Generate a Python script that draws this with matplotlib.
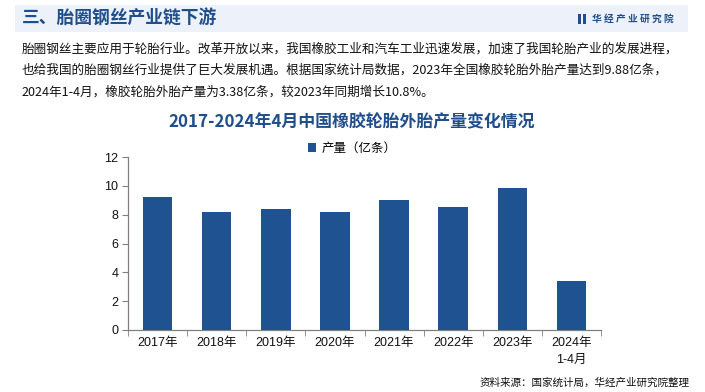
import matplotlib
matplotlib.use("Agg")
import matplotlib.pyplot as plt
from matplotlib.patches import Rectangle

categories = ["2017年", "2018年", "2019年", "2020年", "2021年", "2022年", "2023年", "2024年\n1-4月"]
values = [9.26, 8.16, 8.42, 8.18, 8.99, 8.56, 9.88, 3.38]
yticks = [0, 2, 4, 6, 8, 10, 12]
series_name = "产量（亿条）"

CJK = ["Noto Sans CJK SC", "DejaVu Sans"]
NUM = ["Liberation Sans", "Noto Sans CJK SC", "DejaVu Sans"]
plt.rcParams["font.family"] = CJK

W, H = 705, 392
fig = plt.figure(figsize=(W / 100, H / 100), dpi=100)
fig.patch.set_facecolor("white")

def fx(x):
    return x / W

def fy(y):
    return 1 - y / H

# header band
fig.patches.append(Rectangle((fx(15), fy(32)), fx(673), (27) / H, transform=fig.transFigure,
                             facecolor="#EDF2FA", edgecolor="none", zorder=0))
fig.text(fx(22), fy(19), "三、胎圈钢丝产业链下游", fontsize=12.8, fontweight="bold",
         color="#1F4E8C", va="center", ha="left", family=CJK)
fig.patches.append(Rectangle((fx(578), fy(24)), fx(3), 10 / H, transform=fig.transFigure,
                             facecolor="#1F4E8C", edgecolor="none"))
fig.patches.append(Rectangle((fx(583), fy(24)), fx(3), 10 / H, transform=fig.transFigure,
                             facecolor="#1F4E8C", edgecolor="none"))
fig.text(fx(592), fy(19), "华 经 产 业 研 究 院", fontsize=7, fontweight="bold",
         color="#1F4E8C", va="center", ha="left", family=CJK)

# paragraph
lines = [
    "胎圈钢丝主要应用于轮胎行业。改革开放以来，我国橡胶工业和汽车工业迅速发展，加速了我国轮胎产业的发展进程，",
    "也给我国的胎圈钢丝行业提供了巨大发展机遇。根据国家统计局数据，2023年全国橡胶轮胎外胎产量达到9.88亿条，",
    "2024年1-4月，橡胶轮胎外胎产量为3.38亿条，较2023年同期增长10.8%。",
]
for i, ln in enumerate(lines):
    fig.text(fx(22), fy(49 + i * 21.5), ln, fontsize=9.1, color="#111111",
             va="center", ha="left", family=CJK)

# chart title
fig.text(fx(352), fy(122), "2017-2024年4月中国橡胶轮胎外胎产量变化情况", fontsize=12.2,
         fontweight="bold", color="#1F4E8C", va="center", ha="center", family=CJK)

# axes
ax = fig.add_axes([fx(128), fy(330), fx(601 - 128), (330 - 157) / H])
ax.set_facecolor("none")
x = list(range(len(categories)))
bars = ax.bar(x, values, width=0.5, color="#1F5291", label=series_name, zorder=3)
ax.set_xlim(-0.5, len(categories) - 0.5)
ax.set_ylim(0, 12)
ax.set_yticks(yticks)
ax.set_yticklabels([str(v) for v in yticks], fontsize=9, family=NUM, color="#111111")
ax.set_xticks(x)
ax.set_xticklabels(categories, fontsize=9, family=NUM, color="#111111", linespacing=1.6)
ax.set_xticks([i + 0.5 for i in range(-1, len(categories))], minor=True)
ax.tick_params(axis="x", which="major", length=0, pad=5)
ax.tick_params(axis="x", which="minor", length=4, color="#808080", direction="out")
ax.tick_params(axis="y", length=4, color="#808080", direction="out", pad=3)
for s in ["top", "right"]:
    ax.spines[s].set_visible(False)
for s in ["left", "bottom"]:
    ax.spines[s].set_color("#808080")
    ax.spines[s].set_linewidth(0.9)

leg = fig.legend(handles=[bars], labels=[series_name], loc="center",
                 bbox_to_anchor=(fx(352), fy(148)), frameon=False,
                 handlelength=0.7, handleheight=0.7, handletextpad=0.4,
                 prop={"family": CJK, "size": 9})

# source
fig.text(fx(690), fy(383), "资料来源：国家统计局，华经产业研究院整理", fontsize=7.6,
         color="#111111", va="center", ha="right", family=CJK)

fig.savefig("out.png", dpi=100)
